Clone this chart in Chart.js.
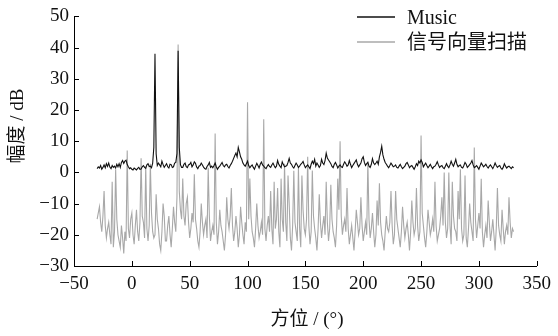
<!DOCTYPE html>
<html>
<head>
<meta charset="utf-8">
<script src="https://cdn.jsdelivr.net/npm/chart.js@4"></script>
<style>
  html, body { margin: 0; padding: 0; background: #fff; }
  canvas { display: block; }
</style>
</head>
<body>
<canvas id="beam-chart" width="558" height="336"></canvas>
<script>
// ── Data ─────────────────────────────────────────────────
// azimuth grid: -30° .. 330°, 1° step (one row = 10°)
const angleStart = -30;
const angleStep  = 1;

const musicDb = [
	1.2, 1.8, 1.4, 2.2, 1.0, 1.6, 2.4, 1.5, 2.8, 1.9,
	3.0, 1.7, 1.2, 2.2, 1.6, 2.0, 1.4, 2.6, 1.8, 2.8,
	1.6, 3.2, 3.8, 2.9, 3.6, 3.9, 2.5, 1.8, 1.2, 1.5,
	1.0, 0.8, 1.4, 1.1, 0.8, 1.3, 1.6, 1.0, 1.1, 1.8,
	2.2, 1.6, 1.3, 2.4, 2.8, 1.9, 2.0, 1.5, 3.0, 8.0,
	38.0, 6.0, 2.2, 3.0, 2.4, 1.8, 3.6, 2.5, 1.6, 2.2,
	2.8, 1.8, 1.4, 2.6, 2.5, 1.6, 1.8, 3.0, 3.2, 6.0,
	39.0, 8.0, 2.5, 1.6, 1.6, 2.6, 3.0, 1.8, 1.5, 2.4,
	2.6, 3.2, 1.8, 2.4, 3.4, 2.9, 1.7, 1.2, 2.0, 2.2,
	3.0, 2.4, 1.7, 1.2, 1.0, 1.9, 2.4, 3.2, 1.6, 2.0,
	1.5, 2.2, 3.0, 1.8, 1.0, 1.6, 2.0, 2.6, 3.2, 2.2,
	1.8, 2.4, 2.6, 1.9, 1.4, 2.2, 2.8, 3.6, 4.5, 5.4,
	6.2, 5.0, 8.0, 6.6, 5.0, 4.2, 3.0, 2.4, 2.0, 2.8,
	3.6, 2.2, 1.5, 2.0, 2.4, 1.6, 1.0, 2.0, 2.9, 2.2,
	1.4, 2.6, 3.3, 2.4, 2.0, 1.5, 1.2, 2.0, 2.5, 1.9,
	1.6, 2.4, 3.0, 2.2, 1.5, 2.0, 3.8, 2.6, 2.0, 1.5,
	3.4, 2.5, 1.8, 2.0, 2.2, 3.2, 4.5, 3.0, 2.6, 1.8,
	1.4, 2.2, 3.0, 2.4, 1.6, 2.0, 2.6, 3.0, 3.5, 2.4,
	1.5, 2.0, 2.4, 1.8, 1.2, 2.6, 3.6, 2.8, 4.2, 2.0,
	3.0, 2.4, 1.6, 2.2, 4.2, 3.0, 2.5, 3.8, 6.2, 4.6,
	4.0, 3.4, 2.8, 1.9, 1.5, 2.6, 3.2, 2.4, 1.4, 2.0,
	2.4, 1.8, 1.6, 2.6, 3.4, 2.8, 2.0, 2.4, 3.8, 2.6,
	1.5, 2.2, 2.8, 3.4, 4.0, 2.6, 1.8, 2.4, 3.0, 4.4,
	5.0, 3.2, 2.2, 2.8, 3.2, 2.0, 1.6, 2.6, 4.4, 3.0,
	2.5, 3.0, 3.6, 2.6, 5.0, 6.4, 8.4, 5.6, 4.2, 3.2,
	2.6, 2.0, 1.5, 2.2, 3.0, 2.4, 1.8, 2.0, 2.4, 1.6,
	1.4, 2.0, 2.6, 1.8, 1.2, 1.6, 2.0, 2.8, 3.2, 2.4,
	1.5, 2.0, 2.2, 1.6, 1.0, 1.8, 2.8, 2.2, 3.6, 3.0,
	4.0, 3.2, 1.8, 2.4, 3.0, 2.2, 1.5, 2.0, 2.6, 1.8,
	1.2, 1.8, 2.0, 2.6, 3.4, 2.4, 1.6, 2.0, 2.2, 1.5,
	1.2, 2.0, 2.8, 2.0, 1.5, 2.4, 3.6, 2.6, 2.0, 3.0,
	4.2, 2.6, 1.8, 2.2, 2.4, 1.6, 1.4, 2.2, 3.2, 2.6,
	1.6, 2.0, 2.5, 3.0, 3.8, 2.4, 1.5, 1.8, 2.2, 1.6,
	1.0, 2.0, 3.0, 2.4, 1.8, 2.2, 2.6, 1.9, 1.4, 2.0,
	2.4, 1.8, 1.2, 2.0, 3.0, 2.2, 1.6, 2.0, 2.2, 1.4,
	1.0, 1.6, 2.8, 2.0, 1.4, 1.8, 2.0, 1.6, 1.2, 1.8,
	1.5,
];

const scanDb = [
	-15, -13, -11, -16, -19, -14, -6, -17, -21, -18,
	-16, -20, -23, -3, -24, -19, 1.0, -15, -20, -22,
	-24, -17, -21, -26, -19, -22, 7.0, -18, -21, -15,
	-13, -20, -23, -17, -12, -19, -22, -16, 4.5, -14,
	-16, -21, 2.0, -18, -22, -17, 2.8, -13, -19, -21,
	-20, -7, -15, -18, -23, -25, -19, -10, -14, -22,
	-22, -17, -14, -20, -24, -18, -11, -16, -19, -8,
	41.0, -6, -12, -15, -2, -14, -17, -10, -8, -16,
	-21, -18, -13, -16, -0.6, -15, -18, -22, -24, -19,
	-10, -16, -20, -17, -15, -21, 1.5, -14, -22, -19,
	-17, -20, 12.5, -16, -23, -19, -12, -17, -19, -22,
	-25, -20, -8, -15, -18, -14, -5, -17, -22, -19,
	-14, -18, -24, -20, -11, -16, -20, -23, -16, -19,
	22.5, -15, -2, -14, -19, -21, -24, -18, -10, -17,
	-21, -19, -16, -20, 17.0, -18, -22, -17, -14, -19,
	-6, -18, -23, -3, -18, -15, -5, -19, -24, -2,
	-15, -19, 2.8, -16, -22, -1, -10, -21, -25, -17,
	0.5, -16, -19, -22, 1.6, -18, -24, -1, -12, -18,
	-20, -15, 5.0, -17, -23, -19, 0.6, -14, -18, -21,
	-25, -18, -7, -16, -21, -17, -14, -20, -3, -16,
	-22, -18, -4, -15, -19, -21, -24, -17, -2, -12,
	10.0, -14, -20, -17, -15, -19, -5, -18, -23, -20,
	-17, -21, -25, -19, -12, -16, -20, -18, -8, -17,
	-22, -19, -16, -20, 3.5, -15, -21, -18, -13, -19,
	-24, -20, -9, -17, -3.5, -16, -20, -22, -25, -19,
	-14, -18, -19, -16, -6, -17, -23, -20, -6, -15,
	-18, -21, -24, -19, -11, -17, -21, -18, -16, -20,
	-25, -19, -9, -16, -20, -18, -5, -17, -22, -19,
	11.8, -13, -17, -21, -24, -19, -12, -16, -20, -18,
	-15, -19, -3, -17, -22, -20, -18, -14, -8, -17,
	0, -16, -21, -18, 0, -17, -23, -3, -14, -18,
	-19, -22, -6, -15, 1.0, -18, -22, -20, -1, -21,
	-24, -18, -10, -16, -19, -22, 8.0, -15, -21, -17,
	-13, -18, -2, -19, -24, -20, -17, -21, -9, -16,
	-22, -19, -15, -20, -25, -18, -5, -17, -20, -22,
	-12, -18, -23, -19, -17, -20, -8, -16, -21, -18,
	-19,
];

const xTicks = { min: -50, max: 350, step: 50 };
const yTicks = { min: -30, max: 50, step: 10 };

const seriesNames = [ 'Music', '信号向量扫描' ];
const xTitle = '方位 / (°)';
const yTitle = '幅度 / dB';

// ── Palette / fonts ──────────────────────────────────────

const colors = {
	music : '#111111',
	scan  : '#a8a8a8',
	axis  : '#000000',
	text  : '#111111',
};

const serif = '"Liberation Serif", "Noto Sans CJK SC", serif';

const toPoints = ( values ) =>
	values.map( ( v, i ) => ( { x: angleStart + i * angleStep, y: v } ) );

const minus = ( v ) => String( v ).replace( '-', '\u2212' );

// ── Inward ticks, legend, axis titles ────────────────────

const decor = {
	id: 'decor',
	afterDraw( chart ) {
		const { ctx, chartArea: area, scales: { x, y } } = chart;
		ctx.save();

		ctx.strokeStyle = colors.axis;
		ctx.lineWidth = 1;
		ctx.beginPath();
		x.ticks.forEach( ( t ) => {
			const px = Math.round( x.getPixelForValue( t.value ) ) + 0.5;
			ctx.moveTo( px, area.bottom );
			ctx.lineTo( px, area.bottom - 5 );
		} );
		y.ticks.forEach( ( t ) => {
			const py = Math.round( y.getPixelForValue( t.value ) ) + 0.5;
			ctx.moveTo( area.left, py );
			ctx.lineTo( area.left + 5, py );
		} );
		ctx.stroke();

		// legend
		const rows = [
			{ label: seriesNames[ 0 ], color: colors.music, y: 17 },
			{ label: seriesNames[ 1 ], color: colors.scan, y: 42 },
		];
		ctx.font = '20px ' + serif;
		ctx.textBaseline = 'middle';
		ctx.textAlign = 'left';
		rows.forEach( ( r ) => {
			ctx.strokeStyle = r.color;
			ctx.lineWidth = 1.5;
			ctx.beginPath();
			ctx.moveTo( 357, r.y );
			ctx.lineTo( 395, r.y );
			ctx.stroke();
			ctx.fillStyle = colors.text;
			ctx.fillText( r.label, 407, r.y + 2 );
		} );

		// axis titles
		ctx.font = '19px ' + serif;
		ctx.textAlign = 'center';
		ctx.fillText( xTitle, 307, 320 );
		ctx.translate( 18, 126 );
		ctx.rotate( -Math.PI / 2 );
		ctx.fillText( yTitle, 0, 0 );

		ctx.restore();
	},
};

// ── Chart ────────────────────────────────────────────────

new Chart( document.getElementById( 'beam-chart' ), {
	type: 'line',
	data: {
		datasets: [
			{
				label       : seriesNames[ 0 ],
				data        : toPoints( musicDb ),
				borderColor : colors.music,
				borderWidth : 1.1,
				pointRadius : 0,
				tension     : 0,
			},
			{
				label       : seriesNames[ 1 ],
				data        : toPoints( scanDb ),
				borderColor : colors.scan,
				borderWidth : 1.1,
				pointRadius : 0,
				tension     : 0,
			},
		],
	},
	options: {
		responsive : false,
		animation  : false,
		layout     : { padding: { top: 15, right: 16, left: 0, bottom: 0 } },
		plugins: {
			legend  : { display: false },
			tooltip : { enabled: false },
		},
		scales: {
			x: {
				type : 'linear',
				min  : xTicks.min,
				max  : xTicks.max,
				grid : { display: false, drawTicks: false },
				border: { display: true, color: colors.axis, width: 1 },
				ticks: {
					stepSize : xTicks.step,
					padding  : 7,
					color    : colors.text,
					font     : { family: serif, size: 19 },
					maxRotation: 0,
					callback : ( v ) => minus( v ),
				},
				afterFit: ( s ) => { s.height = 70; },
			},
			y: {
				min  : yTicks.min,
				max  : yTicks.max,
				grid : { display: false, drawTicks: false },
				border: { display: true, color: colors.axis, width: 1 },
				ticks: {
					stepSize : yTicks.step,
					padding  : 5,
					color    : colors.text,
					font     : { family: serif, size: 19 },
					callback : ( v ) => minus( v ),
				},
				afterFit: ( s ) => { s.width = 74; },
			},
		},
	},
	plugins: [ decor ],
} );
</script>
</body>
</html>
